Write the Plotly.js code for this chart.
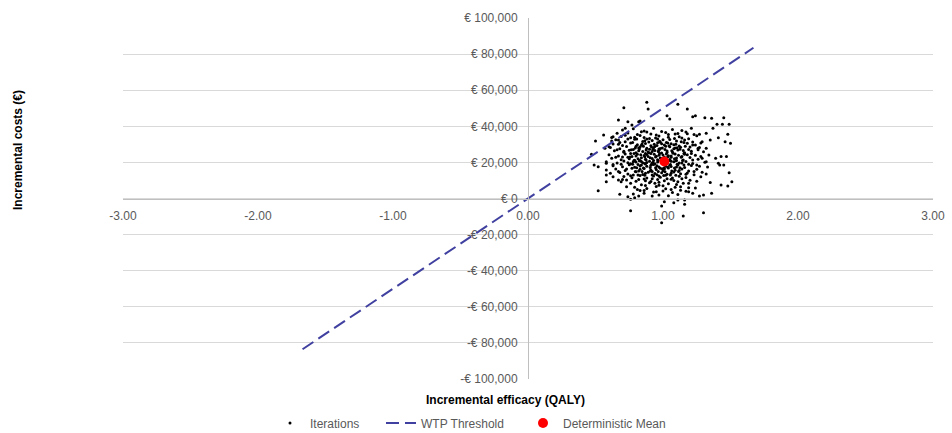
<!DOCTYPE html>
<html>
<head>
<meta charset="utf-8">
<script src="https://cdn.plot.ly/plotly-3.0.1.min.js"></script>
<style>html,body{margin:0;padding:0;background:#fff;}#chart{width:952px;height:433px;}</style>
</head>
<body>
<div id="chart"></div>
<script>
// Incremental QALY of each probabilistic iteration
const iterQALY = [
  0.71,0.89,0.88,0.67,0.74,0.83,0.72,0.50,0.56,0.62,0.67,0.47,
  1.11,1.18,1.22,1.24,1.31,1.36,1.45,1.03,1.05,1.40,1.44,1.21,1.37,1.49,1.27,1.32,
  1.41,1.48,1.35,1.29,1.46,1.50,1.22,1.26,1.32,1.34,1.39,1.43,1.47,1.41,1.32,1.29,
  1.42,1.45,1.49,1.35,1.43,1.48,1.51,1.32,1.36,1.30,1.27,1.22,1.19,1.16,1.11,1.08,
  1.01,0.99,1.16,1.30,1.15,0.99,0.52,0.49,0.52,0.58,0.63,0.67,0.68,0.74,0.76,0.79,
  0.76,0.82,0.86,0.92,0.95,0.58,0.63,0.60,0.57,0.82,0.77,0.67,0.58,0.61,0.69,0.58,
  0.78,0.86,0.93,0.99,1.07,1.14,0.70,
  0.74,0.81,0.88,0.95,1.02,1.09,1.17,1.23,0.66,
  0.69,0.76,0.83,0.90,0.97,1.04,1.12,1.19,0.62,1.25,
  0.65,0.72,0.79,0.85,0.92,0.98,1.05,1.10,1.16,1.22,0.88,
  0.63,0.70,0.76,0.81,0.87,0.91,0.96,1.01,1.06,1.12,1.18,1.24,0.84,0.99,
  0.61,0.68,0.73,0.78,0.83,0.88,0.93,0.97,1.02,1.08,1.13,1.19,1.27,0.90,1.05,
  0.64,0.71,0.75,0.80,0.85,0.89,0.94,0.99,1.03,1.07,1.11,1.16,1.21,1.30,0.97,0.82,
  0.60,0.67,0.72,0.77,0.81,0.86,0.91,0.95,1.00,1.04,1.09,1.14,1.18,1.24,0.88,1.06,
  0.62,0.69,0.74,0.79,0.84,0.87,0.92,0.96,1.01,1.05,1.10,1.15,1.20,1.26,0.98,0.83,
  0.58,0.66,0.71,0.76,0.80,0.85,0.90,0.94,0.99,1.03,1.08,1.12,1.17,1.22,1.31,0.87,1.06,
  0.63,0.70,0.75,0.79,0.84,0.88,0.93,0.97,1.02,1.06,1.11,1.16,1.21,1.27,0.91,
  0.65,0.72,0.77,0.82,0.86,0.91,0.95,1.00,1.04,1.09,1.14,1.19,1.25,0.98,
  0.68,0.74,0.80,0.85,0.89,0.94,0.99,1.03,1.08,1.13,1.18,1.23,0.92,
  0.71,0.77,0.83,0.88,0.93,0.98,1.02,1.07,1.12,1.17,1.28,
  0.73,0.80,0.86,0.91,0.96,1.01,1.06,1.11,1.20,
  0.76,0.84,0.90,0.97,1.04,1.10,1.15,
  0.79,0.88,0.95,1.02,1.09,1.24,
  0.83,0.93,1.00,1.07,1.13,
  0.805,0.865,0.945,1.025,1.085,1.135,
  0.775,0.845,0.895,0.935,0.975,1.035,1.095,1.155,
  0.795,0.855,0.915,0.955,0.995,1.045,1.105,1.165,
  0.765,0.825,0.875,0.925,0.965,1.015,1.065,1.125,
  0.785,0.835,0.895,0.935,0.975,1.025,1.075,1.115,1.155,
  0.755,0.815,0.865,0.905,0.945,0.995,1.035,1.085,1.135,
  0.785,0.825,0.875,0.925,0.965,1.005,1.045,1.095,1.145,
  0.775,0.815,0.865,0.915,0.955,1.005,1.055,1.105,1.155,
  0.805,0.855,0.905,0.945,0.995,1.035,1.085,1.125,
  0.795,0.845,0.905,0.965,1.015,1.065,1.115,
  0.815,0.865,0.955,1.005,1.055,1.095,
  0.72,0.79,0.84,0.91,0.96,1.04,1.11,1.18,
  0.68,0.74,0.80,0.86,0.94,1.00,1.08,1.14,1.20,1.28,
  0.66,0.71,0.76,0.82,0.87,0.92,0.98,1.03,1.09,1.15,1.21,1.26,
  0.65,0.70,0.75,0.80,0.84,0.89,0.93,0.97,1.02,1.06,1.10,1.16,1.22,1.28,
  0.63,0.69,0.74,0.78,0.83,0.88,0.92,0.96,1.01,1.05,1.10,1.14,1.19,1.25,1.33,
  0.67,0.73,0.78,0.83,0.87,0.92,0.97,1.01,1.06,1.12,1.17,1.23,1.29,
  0.70,0.76,0.82,0.87,0.92,0.97,1.03,1.08,1.14,1.19,1.25,
  0.73,0.81,0.87,0.94,1.00,1.06,1.13,1.19,
  0.78,0.86,0.97,1.04,1.11,1.17
];
// Incremental cost of each iteration, thousands of euros
const iterCostK = [
  50.3,49.6,53.3,43.5,42.5,42.9,38.9,31.9,35.2,31.9,30.0,24.5,
  52.2,49.6,45.3,45.9,44.8,44.4,44.8,45.9,44.0,41.1,41.1,38.9,38.9,41.1,35.6,36.1,
  33.7,35.6,32.4,31.5,31.5,30.6,29.6,27.8,27.8,24.1,22.3,23.2,23.2,19.5,20.4,22.3,
  18.6,18.6,14.3,8.8,7.5,6.9,9.3,13.6,2.9,1.9,1.4,2.9,3.8,-0.8,-0.8,-2.3,
  -1.8,-4.2,-3.2,-7.9,-9.7,-13.4,4.3,18.6,17.6,13.0,12.1,10.2,2.3,1.0,-0.4,0.4,
  -6.8,1.4,2.9,1.4,3.8,15.8,34.2,28.7,27.8,42.5,40.7,32.4,19.5,14.0,9.3,9.3,
  38.6,37.4,38.9,37.1,38.2,37.7,38.0,
  36.3,35.5,36.8,35.2,36.5,35.8,36.9,35.4,36.1,
  34.4,33.6,34.9,33.3,34.6,33.9,34.2,33.1,33.8,34.7,
  32.5,31.4,32.8,31.6,32.2,31.1,32.7,31.8,32.4,31.3,32.9,
  30.2,29.4,30.7,29.8,30.5,29.2,30.9,29.6,30.3,29.1,30.6,29.7,29.5,30.4,
  28.3,27.5,28.8,27.2,28.6,27.8,28.1,27.4,28.9,27.6,28.4,27.1,28.2,27.3,28.7,
  26.4,25.6,26.8,25.3,26.1,25.8,26.6,25.2,26.3,25.7,26.9,25.4,26.2,25.9,26.7,26.5,
  24.2,23.6,24.7,23.3,24.5,23.8,24.9,23.4,24.1,23.7,24.6,23.2,24.3,23.9,24.4,23.5,
  22.3,21.5,22.8,21.2,22.6,21.7,22.1,21.4,22.9,21.6,22.4,21.3,22.7,21.8,22.5,21.1,
  20.4,19.6,20.8,19.3,20.2,19.8,20.6,19.2,20.9,19.5,20.3,19.7,20.5,19.4,20.1,19.1,20.7,
  18.2,17.6,18.7,17.3,18.5,17.8,18.9,17.4,18.1,17.7,18.6,17.2,18.3,17.9,18.4,
  16.3,15.5,16.8,15.2,16.6,15.8,16.1,15.4,16.9,15.6,16.4,15.3,16.2,16.7,
  14.4,13.6,14.8,13.3,14.5,13.8,14.2,13.4,14.7,13.7,14.1,13.2,14.9,
  12.2,11.5,12.7,11.3,12.5,11.8,12.9,11.4,12.3,11.7,12.1,
  10.3,9.6,10.8,9.4,10.5,9.8,10.6,9.3,10.1,
  8.4,7.6,8.7,7.3,8.2,7.8,8.5,
  6.2,5.6,6.7,5.4,6.3,5.8,
  4.4,3.6,4.1,3.3,4.6,
  33.0,32.0,33.5,31.0,33.2,31.5,
  31.0,30.2,31.3,30.0,31.7,30.8,30.1,31.0,
  28.0,29.0,28.5,29.3,28.0,29.2,28.1,29.0,
  27.0,27.4,26.9,27.2,26.0,27.1,26.5,27.3,
  25.0,24.2,25.3,24.5,25.0,24.6,25.1,24.0,24.9,
  23.0,22.0,23.1,22.6,23.0,22.2,23.1,22.0,22.9,
  21.0,20.9,21.3,20.0,21.0,20.2,21.1,20.9,21.0,
  19.0,18.9,19.4,19.0,18.2,19.3,18.9,19.0,18.6,
  17.0,16.9,17.2,17.0,16.5,17.3,16.9,17.1,
  15.0,14.9,15.2,15.0,14.8,15.2,14.9,
  13.0,12.9,13.1,12.7,13.0,12.9,
  35.0,34.0,37.0,35.8,33.0,35.5,36.0,35.9,
  31.0,33.0,29.0,33.8,28.8,32.5,29.8,33.5,28.6,30.8,
  27.0,26.2,25.0,28.0,25.0,26.0,27.7,25.5,28.0,26.6,24.9,27.0,
  22.9,23.0,22.0,23.5,20.5,23.2,21.0,24.0,21.5,22.9,21.0,24.5,21.3,23.3,
  18.9,19.0,19.8,20.3,18.0,20.0,19.6,20.2,17.0,18.4,17.5,19.6,19.0,18.6,17.5,
  15.0,16.4,13.0,16.2,14.0,13.0,12.5,16.4,14.0,15.5,13.5,15.0,14.5,
  10.5,12.6,10.5,9.8,11.0,9.0,11.0,10.0,11.0,8.5,9.5,
  6.5,5.0,7.2,8.5,7.0,5.0,6.5,6.0,
  2.5,4.5,2.0,1.5,2.2,4.0
];
// WTP threshold line end points (QALY, thousands of euros)
const wtpQALY = [-1.67, 1.67];
const wtpCostK = [-83.5, 83.5];
// Deterministic mean
const meanQALY = [1.01];
const meanCostK = [20.5];
// Axis ticks
const yTickVals = [-100, -80, -60, -40, -20, 0, 20, 40, 60, 80, 100];
const yTickText = ['-€ 100,000','-€ 80,000','-€ 60,000','-€ 40,000','-€ 20,000','€ 0','€ 20,000','€ 40,000','€ 60,000','€ 80,000','€ 100,000'];
const xTickVals = [-3, -2, -1, 0, 1, 2, 3];
const xTickText = ['-3.00', '-2.00', '-1.00', '0.00', '1.00', '2.00', '3.00'];
const seriesNames = ['Iterations', 'WTP Threshold', 'Deterministic Mean'];

const FONT = 'Liberation Sans, Arial, sans-serif';
const TXT = '#595959';

const traces = [
  {x: iterQALY, y: iterCostK, type: 'scatter', mode: 'markers', name: seriesNames[0],
   marker: {color: '#000000', size: 3}, legend: 'legend', hoverinfo: 'x+y'},
  {x: wtpQALY, y: wtpCostK, type: 'scatter', mode: 'lines', name: seriesNames[1],
   line: {color: '#4040A0', width: 2, dash: '13px,6px'}, legend: 'legend2'},
  {x: meanQALY, y: meanCostK, type: 'scatter', mode: 'markers', name: seriesNames[2],
   marker: {color: '#FF0000', size: 10}, legend: 'legend3'}
];

const legBase = {orientation: 'h', xref: 'container', yref: 'container', y: 0.023, yanchor: 'middle',
  xanchor: 'left', font: {family: FONT, size: 12, color: TXT}, bgcolor: 'rgba(0,0,0,0)', itemsizing: 'trace'};

const layout = {
  width: 952, height: 433,
  margin: {l: 123, r: 19, t: 18, b: 54},
  paper_bgcolor: '#ffffff', plot_bgcolor: '#ffffff',
  font: {family: FONT, size: 12, color: TXT},
  showlegend: true,
  legend: Object.assign({}, legBase, {x: 270/952}),
  legend2: Object.assign({}, legBase, {x: 381/952}),
  legend3: Object.assign({}, legBase, {x: 523/952}),
  xaxis: {
    range: [-3, 3], tickvals: xTickVals, ticktext: xTickText,
    anchor: 'free', position: 0.5, showline: true, linecolor: '#bfbfbf', linewidth: 1,
    showgrid: false, zeroline: false, ticks: '', ticklabelstandoff: 6,
    tickfont: {family: FONT, size: 12, color: TXT}
  },
  yaxis: {
    range: [-100, 100], tickvals: yTickVals, ticktext: yTickText,
    anchor: 'free', position: 0.5, showline: true, linecolor: '#bfbfbf', linewidth: 1,
    showgrid: true, gridcolor: '#d9d9d9', gridwidth: 1, zeroline: false, ticks: '',
    ticklabelstandoff: 8, tickfont: {family: FONT, size: 12, color: TXT}
  },
  annotations: [
    {text: '<b>Incremental efficacy (QALY)</b>', xref: 'paper', yref: 'paper',
     x: (505-123)/810, y: -(400-379)/361, xanchor: 'center', yanchor: 'middle', showarrow: false,
     font: {family: FONT, size: 12, color: '#000000'}},
    {text: '<b>Incremental costs (€)</b>', xref: 'paper', yref: 'paper', textangle: -90,
     x: -(123-18)/810, y: (379-150)/361, xanchor: 'center', yanchor: 'middle', showarrow: false,
     font: {family: FONT, size: 12, color: '#000000'}}
  ]
};

Plotly.newPlot('chart', traces, layout, {displayModeBar: false, staticPlot: true});
</script>
</body>
</html>
